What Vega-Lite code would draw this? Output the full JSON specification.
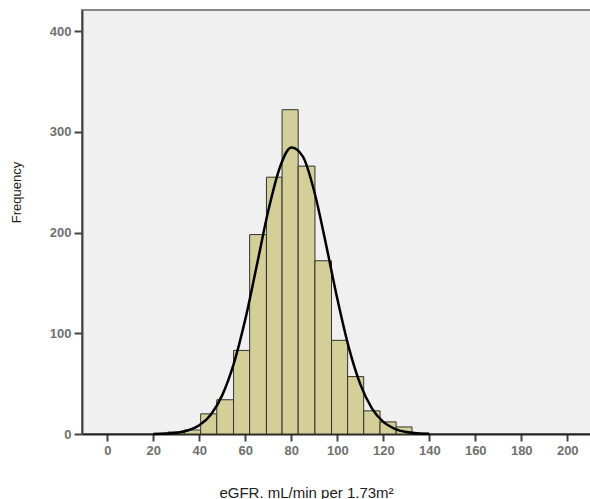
{
  "$schema": "https://vega.github.io/schema/vega-lite/v6.json",
  "autosize": "none",
  "width": 511,
  "height": 424,
  "padding": {"left": 82, "top": 10, "right": 0, "bottom": 65},
  "background": "#ffffff",
  "config": {
    "view": {"fill": "#f0f0f0", "stroke": "#888888", "strokeWidth": 2},
    "font": "Liberation Sans"
  },
  "datasets": {
    "bins": [
      {"lo": 26.3, "hi": 33.5, "count": 2},
      {"lo": 33.5, "hi": 40.6, "count": 4},
      {"lo": 40.6, "hi": 47.6, "count": 20},
      {"lo": 47.6, "hi": 54.9, "count": 34},
      {"lo": 54.9, "hi": 61.9, "count": 83},
      {"lo": 61.9, "hi": 69.2, "count": 198},
      {"lo": 69.2, "hi": 76.0, "count": 255},
      {"lo": 76.0, "hi": 83.0, "count": 322},
      {"lo": 83.0, "hi": 90.3, "count": 266},
      {"lo": 90.3, "hi": 97.5, "count": 172},
      {"lo": 97.5, "hi": 104.5, "count": 93},
      {"lo": 104.5, "hi": 111.5, "count": 57},
      {"lo": 111.5, "hi": 118.6, "count": 23},
      {"lo": 118.6, "hi": 125.6, "count": 12},
      {"lo": 125.6, "hi": 132.5, "count": 7}
    ],
    "curve": [
      {"x": 20, "y": 0.12}, {"x": 25, "y": 0.42}, {"x": 30, "y": 1.27},
      {"x": 35, "y": 3.5}, {"x": 40, "y": 8.6}, {"x": 45, "y": 19.2},
      {"x": 50, "y": 38.6}, {"x": 55, "y": 69.8}, {"x": 60, "y": 113.8},
      {"x": 65, "y": 167.3}, {"x": 70, "y": 221.6}, {"x": 75, "y": 264.4},
      {"x": 80, "y": 284.4}, {"x": 85, "y": 275.7}, {"x": 90, "y": 240.8},
      {"x": 95, "y": 189.5}, {"x": 100, "y": 134.5}, {"x": 105, "y": 86.0},
      {"x": 110, "y": 49.5}, {"x": 115, "y": 25.7}, {"x": 120, "y": 12.0},
      {"x": 125, "y": 5.1}, {"x": 130, "y": 1.9}, {"x": 135, "y": 0.66},
      {"x": 140, "y": 0.2}
    ]
  },
  "layer": [
    {
      "data": {"name": "bins"},
      "mark": {"type": "rect", "fill": "#d4cf99", "stroke": "#33332a", "strokeWidth": 1},
      "encoding": {
        "x": {
          "field": "lo", "type": "quantitative",
          "scale": {"domain": [-11, 211.2], "nice": false, "zero": false},
          "axis": {
            "values": [0, 20, 40, 60, 80, 100, 120, 140, 160, 180, 200],
            "title": "eGFR. mL/min per 1.73m²",
            "titleFont": "Liberation Sans", "titleFontSize": 15, "titleFontWeight": "normal",
            "titleColor": "#222222", "titleX": 224, "titleY": 51,
            "labelFont": "Liberation Sans", "labelFontSize": 13, "labelFontWeight": "bold",
            "labelColor": "#707070", "labelPadding": 3,
            "tickSize": 7, "tickWidth": 2, "tickColor": "#444444",
            "domainColor": "#222222", "domainWidth": 2, "grid": false
          }
        },
        "x2": {"field": "hi"},
        "y": {
          "field": "count", "type": "quantitative",
          "scale": {"domain": [0, 421], "nice": false},
          "axis": {
            "values": [0, 100, 200, 300, 400],
            "title": "Frequency",
            "titleFont": "Liberation Sans", "titleFontSize": 13, "titleFontWeight": "normal",
            "titleColor": "#222222", "titleX": -59, "titleY": 182,
            "labelFont": "Liberation Sans", "labelFontSize": 13, "labelFontWeight": "bold",
            "labelColor": "#707070", "labelPadding": 3,
            "tickSize": 8, "tickWidth": 2, "tickColor": "#444444",
            "domainColor": "#444444", "domainWidth": 2, "grid": false
          }
        },
        "y2": {"datum": 0}
      }
    },
    {
      "data": {"name": "curve"},
      "mark": {"type": "line", "color": "#000000", "strokeWidth": 2.5, "interpolate": "monotone"},
      "encoding": {
        "x": {"field": "x", "type": "quantitative"},
        "y": {"field": "y", "type": "quantitative"}
      }
    }
  ]
}
